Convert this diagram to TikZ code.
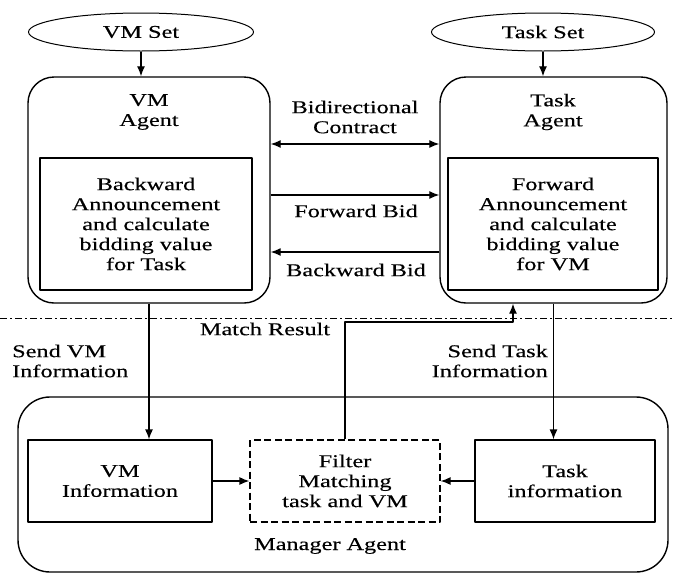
\documentclass[tikz,border=0pt]{standalone}
\usepackage{fontspec}
\setmainfont[FakeStretch=1.35,FakeBold=0.3]{Liberation Serif}
\usetikzlibrary{shapes.geometric,arrows.meta,positioning}
\begin{document}
\begin{tikzpicture}[x=1pt,y=-1pt,line join=round,>={Latex[length=10pt,width=8pt]},
	font=\fontsize{18}{20}\selectfont]

	\tikzset{setnode/.style={draw,ellipse,line width=1pt,inner sep=0pt,minimum height=38pt},
		agentbox/.style={draw,rectangle,rounded corners=26pt,line width=1.4pt,inner sep=0pt},
		innerbox/.style={draw,rectangle,line width=1.2pt,align=center,inner sep=0pt},
		flow/.style={->,line width=1.3pt},
		lbl/.style={align=center,inner sep=0pt}}

	\useasboundingbox (0,0) rectangle (673,574);

	\node[setnode,minimum width=225pt] (vmset) at (141,32) {VM Set};
	\node[setnode,minimum width=223pt] (taskset) at (543,32) {Task Set};

	\node[agentbox,minimum width=242pt,minimum height=226pt] (vmagent) at (149,190) {};
	\node[agentbox,minimum width=227pt,minimum height=226pt] (taskagent) at (553.5,190) {};
	\node[lbl] (vmtitle) at (149,112) {VM\\Agent};
	\node[lbl] (tasktitle) at (553,112) {Task\\Agent};

	\node[innerbox,minimum width=212pt,minimum height=132pt] (vmbid) at (146,224)
		{Backward\\Announcement\\and calculate\\bidding value\\for Task};
	\node[innerbox,minimum width=210pt,minimum height=132pt] (taskbid) at (553,224)
		{Forward\\Announcement\\and calculate\\bidding value\\for VM};

	\draw[flow] (vmset.south) -- (vmset.south |- vmagent.north);
	\draw[flow] (taskset.south) -- (taskset.south |- taskagent.north);

	\coordinate (bc) at (355,144);
	\coordinate (fb) at (355,195);
	\coordinate (bb) at (355,252);
	\draw[flow,<->] (vmagent.east |- bc) -- (taskagent.west |- bc);
	\draw[flow] (vmagent.east |- fb) -- (taskagent.west |- fb);
	\draw[flow] (taskagent.west |- bb) -- (vmagent.east |- bb);
	\node[lbl] (bclbl) at (355,117) {Bidirectional\\Contract};
	\node[lbl] (fblbl) at (356,211) {Forward Bid};
	\node[lbl] (bblbl) at (356,270) {Backward Bid};

	\draw[line width=1pt,dash pattern=on 7pt off 3pt on 2pt off 3pt] (0,318) -- (673,318);

	\node[agentbox,rounded corners=32pt,minimum width=650pt,minimum height=175pt] (manager) at (343,484.5) {};
	\node[lbl] (mglbl) at (330,546) {Manager Agent};

	\node[innerbox,minimum width=184pt,minimum height=82pt] (vminfo) at (120,481) {VM\\Information};
	\node[innerbox,dash pattern=on 7pt off 3.5pt,minimum width=190pt,minimum height=82pt] (filter) at (345,481)
		{Filter\\Matching\\task and VM};
	\node[innerbox,minimum width=180pt,minimum height=82pt] (taskinfo) at (565,481) {Task\\information};

	\draw[flow] (vmagent.south) -- (vmagent.south |- vminfo.north);
	\draw[flow] (taskagent.south) -- (taskagent.south |- taskinfo.north);
	\node[lbl,align=left,anchor=west] (sendvm) at (12,361) {Send VM\\Information};
	\node[lbl,align=right,anchor=east] (sendtask) at (548,361) {Send Task\\Information};

	\coordinate (mr) at (513,322);
	\draw[flow] (filter.north) |- (mr) -- (mr |- taskagent.south);
	\node[lbl] (mrlbl) at (265,329) {Match Result};

	\draw[flow] (vminfo.east) -- (filter.west);
	\draw[flow] (taskinfo.west) -- (filter.east);
\end{tikzpicture}
\end{document}
